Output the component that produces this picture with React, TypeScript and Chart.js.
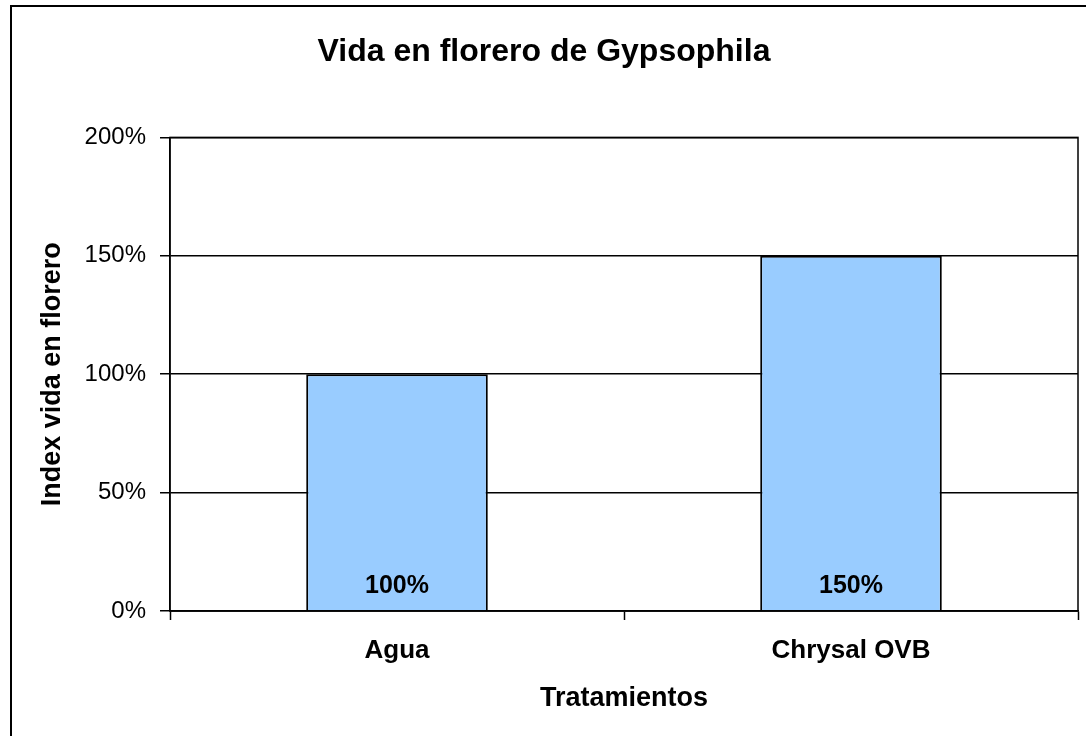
import React, { useEffect, useRef } from "react";
import { Chart, registerables } from "chart.js";

Chart.register(...registerables);

const chartTitle = "Vida en florero de Gypsophila";
const xAxisTitle = "Tratamientos";
const yAxisTitle = "Index vida en florero";
const categories = ["Agua", "Chrysal OVB"];
const indexValues = [100, 150];
const yTickMin = 0;
const yTickMax = 200;
const yTickStep = 50;

const FONT = "'Liberation Sans', Arial, sans-serif";

const frameAndLabels = {
  id: "frameAndLabels",
  beforeDraw(chart: any) {
    const ctx = chart.ctx;
    ctx.save();
    ctx.strokeStyle = "#000";
    ctx.lineWidth = 2;
    ctx.beginPath();
    ctx.moveTo(11, 800);
    ctx.lineTo(11, 6);
    ctx.lineTo(1200, 6);
    ctx.stroke();
    ctx.restore();
  },
  afterDatasetsDraw(chart: any) {
    const ctx = chart.ctx;
    const { left, right, top, bottom } = chart.chartArea;
    ctx.save();
    ctx.strokeStyle = "#000";
    ctx.lineWidth = 1.5;
    ctx.strokeRect(left, top, right - left, bottom - top);
    const yScale = chart.scales.y;
    const meta = chart.getDatasetMeta(0);
    ctx.fillStyle = "#000";
    ctx.font = `bold 25px ${FONT}`;
    ctx.textAlign = "center";
    ctx.textBaseline = "middle";
    meta.data.forEach((el: any, i: number) => {
      const v = chart.data.datasets[0].data[i];
      ctx.fillText(`${v}%`, el.x, yScale.getPixelForValue(0) - 25);
    });
    ctx.restore();
  },
};

export default function App() {
  const ref = useRef<HTMLCanvasElement | null>(null);
  useEffect(() => {
    if (!ref.current) return;
    const chart = new Chart(ref.current, {
      type: "bar",
      data: {
        labels: categories,
        datasets: [
          {
            data: indexValues,
            backgroundColor: "#99CCFF",
            borderColor: "#000",
            borderWidth: 2,
            categoryPercentage: 1,
            barPercentage: 0.4,
          },
        ],
      },
      options: {
        responsive: false,
        animation: false,
        layout: { padding: { left: 10, right: 8, top: 0, bottom: 0 } },
        plugins: {
          legend: { display: false },
          tooltip: { enabled: false },
          title: {
            display: true,
            text: chartTitle,
            color: "#000",
            font: { family: FONT, size: 32, weight: "bold" },
            padding: { top: 33, bottom: 66 },
          },
        },
        scales: {
          x: {
            grid: {
              drawOnChartArea: false,
              drawTicks: true,
              tickLength: 9,
              tickColor: "#000",
              tickWidth: 1.5,
            },
            border: { color: "#000", width: 1.5 },
            ticks: {
              color: "#000",
              font: { family: FONT, size: 26, weight: "bold" },
              padding: 15,
            },
            title: {
              display: true,
              text: xAxisTitle,
              color: "#000",
              font: { family: FONT, size: 27, weight: "bold" },
              padding: { top: 0, bottom: 21 },
            },
            afterFit(scale: any) {
              scale.height = 125;
            },
          },
          y: {
            min: yTickMin,
            max: yTickMax,
            grid: {
              color: "#000",
              lineWidth: 1.5,
              tickLength: 10,
              tickColor: "#000",
            },
            border: { color: "#000", width: 1.5 },
            ticks: {
              stepSize: yTickStep,
              color: "#000",
              font: { family: FONT, size: 24 },
              padding: 14,
              callback: (v: any) => `${v}%`,
            },
            title: {
              display: true,
              text: yAxisTitle,
              color: "#000",
              font: { family: FONT, size: 27, weight: "bold" },
              padding: { top: 26, bottom: 0 },
            },
            afterFit(scale: any) {
              scale.width = 160;
            },
          },
        },
      },
      plugins: [frameAndLabels],
    });
    return () => chart.destroy();
  }, []);
  return (
    <div style={{ position: "absolute", left: 0, top: 0, width: 1086, height: 736, background: "#fff" }}>
      <canvas ref={ref} width={1086} height={736} style={{ display: "block" }} />
    </div>
  );
}
